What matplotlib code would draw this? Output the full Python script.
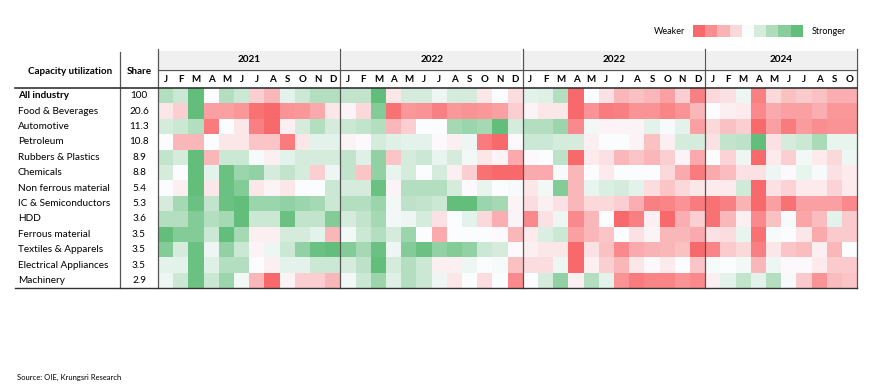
import numpy as np
import matplotlib
matplotlib.use("Agg")
import matplotlib.pyplot as plt
from matplotlib.colors import LinearSegmentedColormap, Normalize

plt.rcParams['font.family'] = ['Lato', 'DejaVu Sans']

industries = ["All industry", "Food & Beverages", "Automotive", "Petroleum",
              "Rubbers & Plastics", "Chemicals", "Non ferrous material",
              "IC & Semiconductors", "HDD", "Ferrous material",
              "Textiles & Apparels", "Electrical Appliances", "Machinery"]
shares = ["100", "20.6", "11.3", "10.8", "8.9", "8.8", "5.4", "5.3", "3.6",
          "3.5", "3.5", "3.5", "2.9"]
years = ["2021", "2022", "2022", "2024"]
months_per_year = [12, 12, 12, 10]
month_letters = ["J", "F", "M", "A", "M", "J", "J", "A", "S", "O", "N", "D"]

# -4 = much weaker (red) ... +4 = much stronger (green)
y2021 = [
    [1.5, 1, 4, 0, 1.5, 1, -1, -1.5, 0.5, 1, 1.5, 1.5],
    [-0.5, -1, 4, -2, -2, -2.2, -3, -3.3, -2.3, -2.2, -1.8, -0.5],
    [0.8, 1, 1.5, -2.8, 0, -0.5, -2.7, -3.2, -0.3, 0.8, 1.5, 0.8],
    [0, -1.5, -1.5, 0, -0.5, -0.5, -1.2, -1.2, -2.8, -0.5, 0.5, 0.5],
    [1.2, 0.8, 4, -1.5, 1, 1, 0.1, -0.3, 0.5, 0.8, 0.8, 0.8],
    [0.8, 0, 4, 0.5, 3, 2, 2.2, 0.8, 1.2, 0.8, -1, 0.3],
    [0, -0.3, 4, -0.5, 3, 2.5, -0.5, -0.2, -0.5, 0, 0, 1],
    [0.8, 1.8, 3, 1.2, 3, 3.5, 2, 2, 2.2, 2, 1.8, 1],
    [1.5, 1.5, 2.5, 1.5, 1.8, 3.5, 1, 1, 3, 1.2, 1.2, 2.5],
    [3.5, 2.5, 2.5, 1, 3.5, 1.8, -0.3, -0.3, 0.8, 0.8, 0.5, -1.5],
    [2.5, 0.8, 3, 0.3, 2.2, 1, -0.2, 0.3, 1, 2.2, 3, 3.5],
    [0.5, 0.5, 3, 0.6, 1.5, 1.5, 0, -0.3, 0.5, 0.5, 1, 1],
    [0.3, 1, 3, 1, 2, 0.2, -1.5, -3.5, -0.2, -1, -1, -1.5],
]
y2022 = [
    [1.2, 1.2, 3.5, -0.5, 0.8, 0.8, 0.3, 0.8, 0.8, -0.5, 0, -0.7],
    [-0.2, -0.8, 2.5, -3, -2.2, -2.3, -2.7, -2.2, -2.3, -2.2, -2, -1],
    [1, 1.2, 1.5, -1.5, -1, 0, 0, 1.8, 2, 1.8, 3.5, 0.8],
    [-0.2, -0.1, 0.8, 0.6, 0.5, 0.5, -0.1, -0.3, 0.3, -2.8, -3.3, -0.1],
    [1.2, 0.6, 2.2, -1.2, 0.8, 1, 0.4, 0.8, 0.2, -0.5, -0.2, -1.8],
    [1.2, -1.2, 2.2, 0.4, 0.8, 0, 0.8, -0.3, -1, -3, -3.5, -3.8],
    [0.8, 0.8, 3, -0.2, 1.5, 1.5, 1.5, 0.8, -0.1, 0.4, 0, 0.1],
    [1.5, 1.5, 2, 0.2, 1.3, 1.2, 1, 3.5, 3.5, 2, 1.8, -0.2],
    [0.8, 1.2, 1.8, 0.2, 0.3, 0.8, -0.6, 0, 0.5, -0.8, -1.7, -0.2],
    [0.2, 1, 1.5, 0.8, 2, 0, -1.8, 0, 0, 0, -0.1, -1.5],
    [2.5, 1.8, 3, 0.3, 2.5, 3, 2.2, 2.5, 2.2, 1, 0.8, -0.1],
    [0.8, 1.3, 3.2, 0.8, 1.5, 1, -0.3, -0.3, 0.3, 0, 0.1, -1.3],
    [0.2, 1, 2, 0.6, 1.5, 1, 0.3, -0.5, 0, -0.7, 0, -2.5],
]
y2023 = [
    [0.5, 0.6, 1.5, -3.5, 0, -0.6, -1.5, -1.3, -1.5, -2, -1, -2.7],
    [-0.2, -0.5, -0.5, -3.5, -2.3, -2.8, -2.7, -2.3, -2.3, -2.6, -2.3, -1.5],
    [1.5, 1.5, 2, -2.5, 0.2, -0.2, -0.2, -0.2, 0.5, 0.1, 0.5, -2],
    [1, 1, 0.8, 0.8, -0.3, 0, 0, -0.2, -1.3, -0.3, 0.8, 0.8],
    [-0.1, 0, 1.3, -3.3, -0.4, -0.6, -1.5, -1.2, -1.5, -1, -0.2, -1.8],
    [-1.8, -1.8, 0.1, -1.5, 0, -0.4, 0, 0, 0, -0.8, -1.8, -2.8],
    [-0.5, 0.2, 2.5, -1.5, 0.4, 0.7, 0.8, 0.5, -0.7, -1.2, -0.8, -0.5],
    [-0.7, -0.3, -0.6, -1.5, -0.8, -0.8, -1, -1.7, -2.7, -2.6, -2.3, -2.8],
    [-2.5, -0.6, 0.3, -2.5, -1.5, 0, -3.2, -2.7, -0.3, -3.3, -1.7, -1],
    [-0.4, 0.7, 1, -2, -1.5, -1.2, 0, -0.6, -0.2, -1.5, -1.5, -1.8],
    [-0.3, -0.5, -0.5, -3.3, -0.6, -1.3, -2.5, -1.8, -1.6, -1.5, -1.3, -3.5],
    [-0.7, -0.7, 0.3, -3.3, -0.3, -1, -1.5, -0.5, -0.1, -0.4, 0, -1.2],
    [0, 0.8, 2.2, -0.3, 1.5, 0.5, -2.3, -2.8, -2.6, -2.6, -2.3, -2.5],
]
y2024 = [
    [-0.8, -0.6, 0.3, -2.7, -0.8, -1.3, -1.1, -1.3, -1.7, -1.7],
    [0, -0.3, -0.4, -2.5, -1.8, -2, -2, -1.7, -2.2, -2.2],
    [-0.8, -1.3, -1, -3.2, -2, -2.8, -2.1, -2.4, -2.3, -2.3],
    [-0.6, 1.2, 1.3, 3.5, -0.6, 0.8, 1, 1.7, 0.4, 0.4],
    [0, -0.9, 0.3, -3.2, -0.4, -1, 0.2, -0.4, -0.8, 0.3],
    [-1.8, -1.4, -0.6, -0.6, 0.3, -0.1, 0.4, 0.1, -0.6, -0.4],
    [-0.4, -0.4, 0.9, -3.2, -0.6, -0.9, -0.4, -0.4, -0.9, -0.4],
    [-3, -2.7, -1.6, -3.2, -2, -3, -2, -2, -2, -2.5],
    [-3, -1.5, -0.3, -2.5, -1.3, 0.1, -1.9, -1.4, 0.5, -1.1],
    [-0.6, -0.7, 0.4, -3, 0.1, 0, -0.5, -1.8, -1.1, -1.1],
    [-2.6, -1.1, -0.8, -2.7, -0.5, -1.2, -1.4, -0.3, -1.5, 0],
    [0.1, 0, 0.2, -1.5, 0.3, -0.1, -0.1, -0.4, -1.1, -1.1],
    [-0.3, 0.5, 1.2, 0.5, 1.5, 0.1, -1.1, -2.3, -1.4, -1.2],
]

data = np.hstack([np.array(y2021), np.array(y2022), np.array(y2023), np.array(y2024)])

cmap = LinearSegmentedColormap.from_list("rwg", ["#F8696B", "#FCFCFF", "#63BE7B"])
norm = Normalize(-3.2, 3.2, clip=True)

W, H = 870, 386
fig = plt.figure(figsize=(W / 100, H / 100), dpi=100)
ax = fig.add_axes([0, 0, 1, 1])
ax.set_xlim(0, W)
ax.set_ylim(H, 0)
ax.axis("off")

# layout (pixels)
left = 15
share_x0 = 120
grid_x0 = 158
cw = 15.2
top_line = 49
year_y0, year_y1 = 51, 69
header_bottom = 88
rh = 15.4
nrows, ncols = data.shape
grid_x1 = grid_x0 + ncols * cw
bottom = header_bottom + nrows * rh

xe = grid_x0 + np.arange(ncols + 1) * cw
ye = header_bottom + np.arange(nrows + 1) * rh
ax.pcolormesh(xe, ye, data, cmap=cmap, norm=norm, shading="flat")

# year headers
col = 0
for yr, n in zip(years, months_per_year):
    x0 = grid_x0 + col * cw
    x1 = x0 + n * cw
    ax.add_patch(plt.Rectangle((x0 + 1.5, year_y0), n * cw - 3, year_y1 - year_y0,
                               facecolor="#F0F0F0", edgecolor="none"))
    ax.text((x0 + x1) / 2, (year_y0 + year_y1) / 2, yr, ha="center", va="center",
            fontsize=7.2, fontweight="bold")
    for m in range(n):
        ax.text(x0 + (m + 0.5) * cw, 79.5, month_letters[m], ha="center", va="center",
                fontsize=7, fontweight="bold")
    ax.plot([x0, x0], [top_line, bottom], color="#555555", lw=0.9)
    col += n
ax.plot([grid_x1, grid_x1], [top_line, bottom], color="#555555", lw=0.9)
ax.plot([grid_x0, grid_x1], [year_y1 + 1, year_y1 + 1], color="#555555", lw=0.9)

# left table
ax.plot([share_x0, share_x0], [top_line + 3, bottom], color="#555555", lw=0.9)
ax.text((left + share_x0) / 2 + 3, 71, "Capacity utilization", ha="center", va="center",
        fontsize=7.1, fontweight="bold")
ax.text((share_x0 + grid_x0) / 2, 71, "Share", ha="center", va="center",
        fontsize=7.1, fontweight="bold")
ax.plot([left, grid_x1], [header_bottom, header_bottom], color="#333333", lw=1.2)
ax.plot([left, grid_x1], [bottom, bottom], color="#333333", lw=1.0)

for i, (name, sh) in enumerate(zip(industries, shares)):
    yc = header_bottom + (i + 0.5) * rh
    ax.text(left + 3, yc, name, ha="left", va="center", fontsize=7.2,
            fontweight="bold" if i == 0 else "normal")
    ax.text((share_x0 + grid_x0) / 2, yc, sh, ha="center", va="center", fontsize=7.2)

# legend
sw_x0, sw_w, sw_y0, sw_h = 693, 12.2, 25, 12
levels = np.linspace(-3.2, 3.2, 9)
ax.pcolormesh(sw_x0 + np.arange(len(levels) + 1) * sw_w, [sw_y0, sw_y0 + sw_h],
              levels[np.newaxis, :], cmap=cmap, norm=norm, shading="flat")
ax.text(sw_x0 - 8, sw_y0 + sw_h / 2, "Weaker", ha="right", va="center", fontsize=6.5)
ax.text(sw_x0 + len(levels) * sw_w + 9, sw_y0 + sw_h / 2, "Stronger", ha="left",
        va="center", fontsize=6.5)

ax.text(17, 377, "Source: OIE, Krungsri Research", ha="left", va="center", fontsize=5.5)

fig.savefig("out.png", dpi=100)
